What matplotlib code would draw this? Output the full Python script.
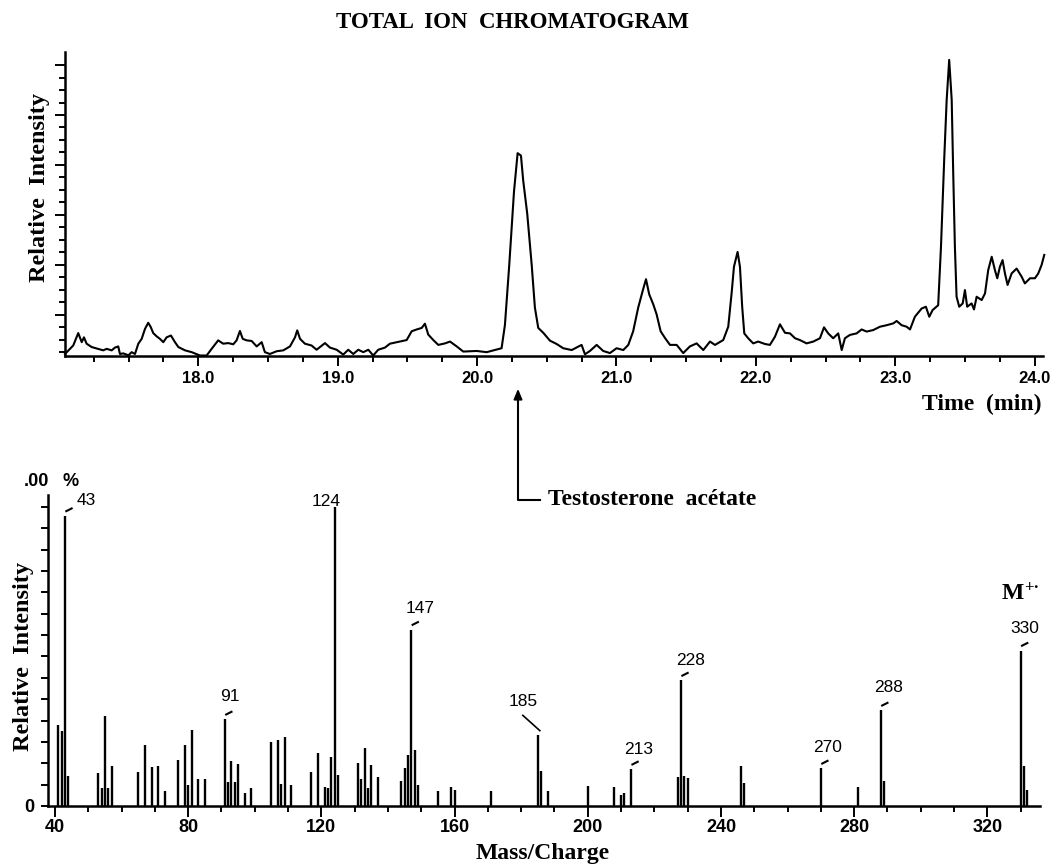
import matplotlib
matplotlib.use("Agg")
import matplotlib.pyplot as plt
from matplotlib.lines import Line2D
from matplotlib.ticker import MultipleLocator, FixedLocator

# total ion chromatogram: retention time (min) and relative intensity
tic_time = [
    17.044, 17.103, 17.139, 17.164, 17.180, 17.199, 17.235, 17.318, 17.343, 17.379,
    17.402, 17.426, 17.438, 17.462, 17.486, 17.498, 17.522, 17.546, 17.570, 17.594,
    17.618, 17.641, 17.659, 17.677, 17.702, 17.725, 17.749, 17.773, 17.804, 17.833,
    17.857, 17.905, 17.953, 18.012, 18.060, 18.096, 18.143, 18.179, 18.215, 18.251,
    18.275, 18.299, 18.319, 18.347, 18.383, 18.419, 18.455, 18.478, 18.514, 18.562,
    18.610, 18.658, 18.694, 18.710, 18.730, 18.765, 18.813, 18.849, 18.909, 18.945,
    18.993, 19.040, 19.076, 19.112, 19.148, 19.184, 19.220, 19.255, 19.291, 19.339,
    19.375, 19.447, 19.495, 19.531, 19.567, 19.603, 19.626, 19.650, 19.686, 19.722,
    19.770, 19.806, 19.854, 19.901, 19.997, 20.069, 20.128, 20.176, 20.200, 20.231,
    20.265, 20.291, 20.315, 20.331, 20.360, 20.392, 20.415, 20.439, 20.475, 20.523,
    20.571, 20.618, 20.679, 20.750, 20.774, 20.810, 20.858, 20.905, 20.953, 21.001,
    21.049, 21.085, 21.120, 21.156, 21.188, 21.212, 21.235, 21.264, 21.288, 21.317,
    21.348, 21.384, 21.432, 21.479, 21.527, 21.575, 21.623,
    21.671, 21.707, 21.766, 21.802, 21.826, 21.843, 21.869, 21.886, 21.902, 21.917,
    21.945, 21.981, 22.017, 22.065, 22.101, 22.137, 22.173, 22.209, 22.245, 22.281,
    22.316, 22.364, 22.412, 22.460, 22.489, 22.519, 22.555, 22.591, 22.616, 22.639,
    22.675, 22.723, 22.759, 22.795, 22.842, 22.890, 22.938, 22.986, 23.010, 23.046,
    23.082, 23.106, 23.141, 23.189, 23.220, 23.244, 23.268, 23.308, 23.328, 23.352,
    23.369, 23.387, 23.405, 23.416, 23.428, 23.440, 23.459, 23.484, 23.500, 23.516,
    23.548, 23.565, 23.584, 23.620, 23.644, 23.667, 23.692, 23.715, 23.732, 23.751,
    23.770, 23.787, 23.806, 23.835, 23.871, 23.907, 23.930, 23.967, 24.002, 24.026,
    24.050, 24.069,
]
tic_intensity = [
    0.5, 3.3, 7.4, 4.4, 6.0, 3.9, 2.8, 1.7, 2.2, 1.7,
    2.6, 3.0, 0.5, 0.7, 0.3, 0.0, 1.1, 0.5, 3.9, 5.5,
    8.8, 10.8, 9.4, 7.4, 6.3, 5.5, 4.4, 6.0, 6.6, 4.4,
    2.8, 1.7, 1.1, 0.0, 0.0, 2.2, 5.0, 3.9, 4.1, 3.7,
    5.0, 8.1, 5.5, 5.0, 4.8, 3.0, 4.4, 1.1, 0.5, 1.4,
    1.7, 3.0, 6.0, 8.3, 5.5, 3.9, 3.3, 1.9, 4.1, 2.6,
    1.9, 0.3, 1.9, 0.5, 1.9, 1.1, 1.9, 0.0, 1.9, 2.6,
    3.9, 4.6, 5.1, 8.0, 8.6, 9.1, 10.5, 6.9, 5.1, 3.5,
    4.0, 4.6, 3.0, 1.3, 1.5, 1.1, 1.8, 2.4, 10.1, 29.9,
    54.1, 66.8, 66.0, 57.8, 46.8, 29.9, 15.8, 9.1, 7.5, 4.9,
    3.8, 2.4, 1.8, 3.5, 0.4, 1.5, 3.5, 1.5, 0.8, 2.4,
    1.8, 3.5, 8.0, 15.8, 21.3, 25.2, 20.2, 16.9, 13.6, 8.0,
    5.8, 3.5, 3.5, 0.8, 3.0, 4.0, 1.8,
    4.6, 3.5, 5.1, 9.5, 20.5, 29.3, 34.2, 29.3, 16.1, 7.3,
    5.7, 4.0, 4.6, 3.8, 3.5, 6.2, 10.3, 7.5, 7.3, 5.7,
    5.1, 4.0, 4.6, 5.7, 9.3, 7.3, 5.7, 7.3, 1.8, 5.7,
    6.8, 7.3, 8.6, 7.9, 8.4, 9.5, 10.0, 10.6, 11.4, 10.0,
    9.5, 8.6, 12.8, 15.5, 16.1, 12.8, 15.0, 16.6, 35.8, 65.6,
    84.4, 97.6, 84.4, 60.1, 35.8, 19.4, 16.1, 17.2, 21.6, 16.1,
    17.2, 15.2, 19.4, 18.3, 20.5, 28.2, 32.6, 28.2, 25.5, 29.3,
    31.5, 27.1, 23.3, 27.1, 28.7, 26.0, 23.8, 25.5, 25.5, 27.1,
    29.9, 33.2,
]
time_ticks = [18, 19, 20, 21, 22, 23, 24]

# mass spectrum of the peak at 20.3 min
ms_mz = [41, 42, 43, 44, 53, 54, 55, 56, 57, 65, 67, 69, 71, 73, 77, 79, 80, 81, 83, 85,
         91, 92, 93, 94, 95, 97, 99, 105, 107, 108, 109, 111, 117, 119, 121, 122, 123, 124, 125,
         131, 132, 133, 134, 135, 137, 144, 145, 146, 147, 148, 149, 155, 159, 160, 171,
         185, 186, 188, 200, 208, 210, 211, 213, 227, 228, 229, 230, 246, 247, 270, 281, 288, 289,
         330, 331, 332]
ms_intensity = [27, 25, 97, 10, 11, 6, 30, 6, 13.5, 11.5, 20.5, 13, 13.5, 5, 15.5, 20.5, 7, 25.5, 9, 9,
                29, 8, 15, 8, 14, 4.5, 6, 21.5, 22, 7.5, 23, 7, 11.3, 17.8, 6.5, 6, 16.5, 100, 10.5,
                14.5, 9, 19.3, 6, 13.7, 9.7, 8.2, 12.7, 17.2, 59, 18.7, 7, 5, 6.3, 5.5, 5,
                23.7, 11.8, 5.1, 6.7, 6.2, 3.7, 4.3, 12.3, 9.8, 42, 10, 9.5, 13.5, 7.8, 12.6, 6.5, 32, 8.2,
                52, 13.4, 5.5]
mz_ticks = [40, 80, 120, 160, 200, 240, 280, 320]

# labelled fragment ions and where their numbers sit (m/z, intensity)
label_mz = [43, 91, 124, 147, 185, 213, 228, 270, 288, 330]
label_x = [49.3, 92.6, 121.5, 149.8, 180.5, 215.4, 230.8, 272.1, 290.2, 331.1]
label_y = [102.0, 36.5, 101.7, 65.9, 34.8, 18.9, 48.5, 19.4, 39.5, 59.5]

W, H = 1058, 866
SERIF = "Liberation Serif"
SANS = "Liberation Sans"

fig = plt.figure(figsize=(W / 100, H / 100), dpi=100)


def px_axes(left, top, right, bottom):
    return fig.add_axes([left / W, 1 - bottom / H, (right - left) / W, (bottom - top) / H])


def ftext(x, y, s, **kw):
    return fig.text(x / W, 1 - y / H, s, **kw)


def style_axes(ax):
    for side in ("top", "right"):
        ax.spines[side].set_visible(False)
    for side in ("left", "bottom"):
        ax.spines[side].set_linewidth(1.8)
    ax.tick_params(which="both", direction="out", width=1.4, color="black")


# ---- top panel: total ion chromatogram ----
ax1 = px_axes(65, 52, 1043, 355.5)
ax1.plot(tic_time, tic_intensity, color="black", lw=1.5, clip_on=False)
ax1.set_xlim(17.044, 24.06)
ax1.set_ylim(0, 100.2)
style_axes(ax1)
ax1.set_xticks(time_ticks)
ax1.set_xticklabels([f"{t:.1f}" for t in time_ticks], fontsize=12,
                    fontweight="bold", family=SANS)
ax1.xaxis.set_minor_locator(MultipleLocator(0.25))
ax1.tick_params(axis="x", which="major", length=7, pad=4)
ax1.tick_params(axis="x", which="minor", length=4)
ax1.yaxis.set_major_locator(FixedLocator([13.4 + 16.5 * k for k in range(6)]))
ax1.yaxis.set_minor_locator(FixedLocator([13.4 + 4.125 * k for k in range(-3, 21)]))
ax1.set_yticklabels([])
ax1.tick_params(axis="y", which="major", length=7)
ax1.tick_params(axis="y", which="minor", length=4)
ax1.text(-0.0256, 0.555, "Relative  Intensity", transform=ax1.transAxes, rotation=90,
         ha="center", va="center", fontsize=17.5, fontweight="bold", family=SERIF)

# ---- bottom panel: mass spectrum ----
ax2 = px_axes(48, 495, 1040, 806)
ax2.vlines(ms_mz, 0, ms_intensity, color="black", lw=1.7)
ax2.set_xlim(37.9, 335.8)
ax2.set_ylim(0, 104)
style_axes(ax2)
ax2.set_xticks(mz_ticks)
ax2.set_xticklabels([str(m) for m in mz_ticks], fontsize=13, fontweight="bold", family=SANS)
ax2.xaxis.set_minor_locator(MultipleLocator(10))
ax2.tick_params(axis="x", which="major", length=8, pad=1)
ax2.tick_params(axis="x", which="minor", length=4)
ax2.set_yticks([100 / 14 * k for k in range(15)])
ax2.set_yticklabels(["0"] + [""] * 14, fontsize=13, fontweight="bold", family=SANS)
ax2.tick_params(axis="y", length=5, pad=5)
ax2.text(-0.0252, 0.482, "Relative  Intensity", transform=ax2.transAxes, rotation=90,
         ha="center", va="center", fontsize=17.5, fontweight="bold", family=SERIF)

peak_height = dict(zip(ms_mz, ms_intensity))
for m, lx, ly in zip(label_mz, label_x, label_y):
    ax2.text(lx, ly, str(m), ha="center", va="center", fontsize=12.5, family=SANS)
    h = peak_height[m]
    if m == 185:
        ax2.plot([lx, m + 0.6], [ly - 4.5, h + 1.5], color="black", lw=1.2)
    elif m != 124:
        ax2.plot([m + 0.4, m + 2.0], [h + 1.6, h + 2.5], color="black", lw=1.5)

ax2.text(324.4, 70.9, "M", ha="left", va="center", fontsize=17, fontweight="bold", family=SERIF)
ax2.text(331.0, 72.8, "+\u00b7", ha="left", va="center", fontsize=12, fontweight="bold",
         family=SERIF)

ftext(36, 481, ".00", ha="center", va="center", fontsize=13, fontweight="bold", family=SANS)
ftext(71, 481, "%", ha="center", va="center", fontsize=13, fontweight="bold", family=SANS)

# ---- shared texts and arrow ----
ftext(513, 22, "TOTAL  ION  CHROMATOGRAM", ha="center", va="center", fontsize=16.5,
      fontweight="bold", family=SERIF)
ftext(1042, 404, "Time  (min)", ha="right", va="center", fontsize=17,
      fontweight="bold", family=SERIF)
ftext(543, 853, "Mass/Charge", ha="center", va="center", fontsize=17,
      fontweight="bold", family=SERIF)
ftext(548, 500, "Testosterone  ac\u00e9tate", ha="left", va="center", fontsize=17,
      fontweight="bold", family=SERIF)

fig.add_artist(Line2D([518 / W, 518 / W, 540 / W], [1 - 392 / H, 1 - 500 / H, 1 - 500 / H],
                      transform=fig.transFigure, color="black", lw=1.5))
plt.annotate("", xy=(518, H - 386), xycoords="figure pixels",
             xytext=(518, H - 402), textcoords="figure pixels",
             arrowprops=dict(arrowstyle="-|>,head_length=0.6,head_width=0.25",
                             color="black", lw=1.4))

fig.savefig("out.png", dpi=100)
plt.close(fig)
